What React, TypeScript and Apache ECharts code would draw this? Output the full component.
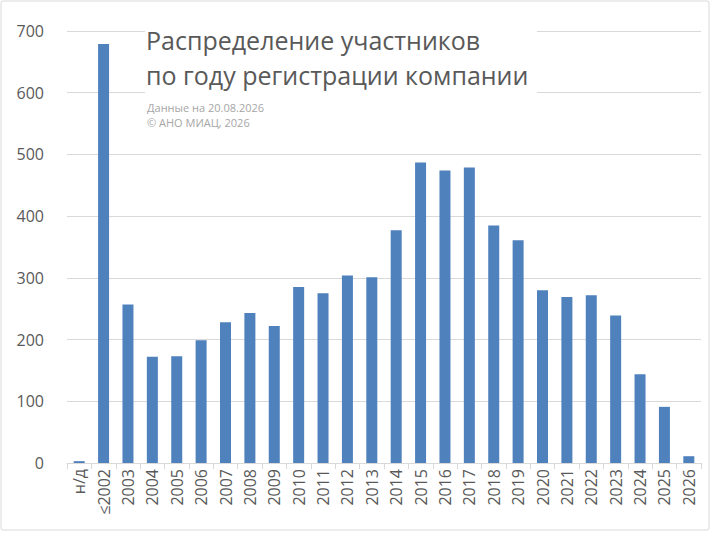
import React, { useEffect, useRef } from "react";
import * as echarts from "echarts";

const categories = ["н/д", "≤2002", "2003", "2004", "2005", "2006", "2007", "2008", "2009", "2010", "2011", "2012", "2013", "2014", "2015", "2016", "2017", "2018", "2019", "2020", "2021", "2022", "2023", "2024", "2025", "2026"];
const values = [3, 679, 257, 172, 173, 199, 228, 243, 222, 285, 275, 304, 301, 377, 487, 474, 479, 385, 361, 280, 269, 272, 239, 144, 91, 11];
const titleLines = ["Распределение участников", "по году регистрации компании"];
const subtitleLines = ["Данные на 20.08.2026", "© АНО МИАЦ, 2026"];

export default function App() {
  const ref = useRef<HTMLDivElement>(null);
  useEffect(() => {
    if (!ref.current) return;
    const chart = echarts.init(ref.current, undefined, { renderer: "svg" });
    const font = "'Open Sans', 'Noto Sans', sans-serif";
    chart.setOption({
      animation: false,
      backgroundColor: "#ffffff",
      textStyle: { fontFamily: font },
      grid: { left: 67, right: 10, top: 31, bottom: 70, containLabel: false },
      xAxis: {
        type: "category",
        data: categories,
        boundaryGap: true,
        axisLine: { lineStyle: { color: "#D9D9D9", width: 1 } },
        axisTick: { show: true, length: 6, lineStyle: { color: "#D9D9D9" } },
        axisLabel: { rotate: 90, fontSize: 16, color: "#595959", margin: 6, interval: 0, fontFamily: font },
      },
      yAxis: {
        type: "value",
        min: 0,
        max: 700,
        interval: 100,
        axisLine: { show: false },
        axisTick: { show: false },
        splitLine: { lineStyle: { color: "#D9D9D9", width: 1 } },
        axisLabel: { fontSize: 16, color: "#595959", margin: 23, fontFamily: font },
      },
      series: [
        {
          type: "bar",
          data: values,
          barWidth: 11,
          itemStyle: { color: "#4F81BD" },
        },
      ],
      graphic: [
        {
          type: "rect",
          z: 100,
          shape: { x: 1, y: 1, width: 708, height: 529, r: 2 },
          style: { fill: "none", stroke: "#D9D9D9", lineWidth: 1 },
        },
        {
          type: "rect",
          z: 100,
          shape: { x: 145, y: 24, width: 392, height: 73 },
          style: { fill: "#ffffff" },
        },
        {
          type: "text",
          z: 101,
          x: 146,
          y: 40,
          style: { text: titleLines[0], fontSize: 25, fill: "#595959", fontFamily: font, textVerticalAlign: "middle" },
        },
        {
          type: "text",
          z: 101,
          x: 146,
          y: 75,
          style: { text: titleLines[1], fontSize: 25, fill: "#595959", fontFamily: font, textVerticalAlign: "middle" },
        },
        {
          type: "text",
          z: 101,
          x: 147,
          y: 107,
          style: { text: subtitleLines[0], fontSize: 11, fill: "#A6A6A6", fontFamily: font, textVerticalAlign: "middle" },
        },
        {
          type: "text",
          z: 101,
          x: 147,
          y: 122,
          style: { text: subtitleLines[1], fontSize: 11, fill: "#A6A6A6", fontFamily: font, textVerticalAlign: "middle" },
        },
      ],
    });
    return () => chart.dispose();
  }, []);
  return <div ref={ref} style={{ position: "absolute", left: 0, top: 0, width: 711, height: 533 }} />;
}
